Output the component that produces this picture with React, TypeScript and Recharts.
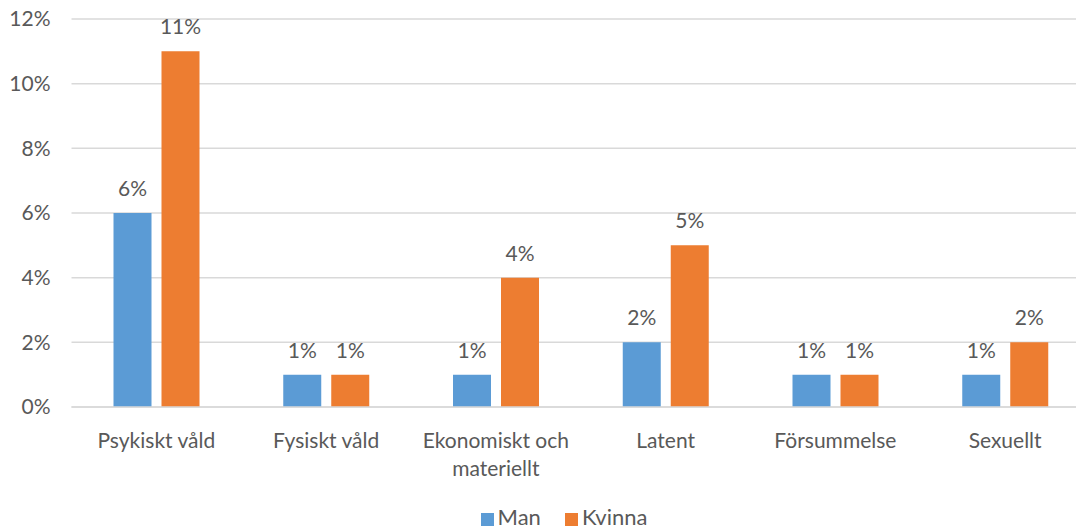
import { BarChart, Bar, XAxis, YAxis, CartesianGrid, Legend, LabelList } from "recharts";

const categories = [
  "Psykiskt våld",
  "Fysiskt våld",
  "Ekonomiskt och materiellt",
  "Latent",
  "Försummelse",
  "Sexuellt",
];
const man = [6, 1, 1, 2, 1, 1];
const kvinna = [11, 1, 4, 5, 1, 2];
const yTicks = [0, 2, 4, 6, 8, 10, 12];
const seriesOrder = ["Man", "Kvinna"];

const data = categories.map((name, i) => ({ name, Man: man[i], Kvinna: kvinna[i] }));

const FONT = "Lato, 'Open Sans', sans-serif";
const TEXT = "#595959";
const GRID = "#D9D9D9";

function wrap(label: string, max: number) {
  const lines: string[] = [];
  let cur = "";
  for (const w of label.split(" ")) {
    const next = cur ? cur + " " + w : w;
    if (next.length > max && cur) {
      lines.push(cur);
      cur = w;
    } else cur = next;
  }
  if (cur) lines.push(cur);
  return lines;
}

function CategoryTick(props: any) {
  const { x, y, payload } = props;
  const lines = wrap(payload.value, 15);
  return (
    <text x={x} y={y + 41} textAnchor="middle" fill={TEXT} fontSize={21} fontFamily={FONT}>
      {lines.map((l, i) => (
        <tspan key={i} x={x} dy={i === 0 ? 0 : 28}>
          {l}
        </tspan>
      ))}
    </text>
  );
}

export default function App() {
  return (
    <div
      style={{
        position: "fixed",
        left: 0,
        top: 0,
        width: 1076,
        height: 531,
        overflow: "hidden",
        background: "#fff",
      }}
    >
      <BarChart
        width={1120}
        height={531}
        data={data}
        margin={{ top: 19, right: 30, bottom: 0, left: 0 }}
        barSize={38}
        barGap={10}
      >
        <CartesianGrid vertical={false} stroke={GRID} strokeWidth={1.5} />
        <XAxis
          dataKey="name"
          axisLine={{ stroke: GRID, strokeWidth: 1.5 }}
          tickLine={false}
          tickSize={0}
          tickMargin={0}
          height={94}
          interval={0}
          tick={<CategoryTick />}
        />
        <YAxis
          width={71.5}
          domain={[0, 12]}
          ticks={yTicks}
          axisLine={false}
          tickLine={false}
          tickSize={0}
          tickMargin={21}
          tickFormatter={(v) => `${v}%`}
          tick={{ fontSize: 21, fill: TEXT, fontFamily: FONT }}
        />
        <Legend
          verticalAlign="bottom"
          height={30}
          iconType="square"
          iconSize={13}
          itemSorter={(item: any) => seriesOrder.indexOf(item.value)}
          wrapperStyle={{
            left: 426,
            width: 300,
            top: 505,
            bottom: "auto",
            fontFamily: FONT,
            fontSize: 22,
            color: TEXT,
            lineHeight: "24px",
          }}
          formatter={(v) => <span style={{ color: TEXT, marginRight: 14 }}>{v}</span>}
        />
        <Bar dataKey="Man" fill="#5B9BD5" isAnimationActive={false}>
          <LabelList
            dataKey="Man"
            position="top"
            offset={17}
            formatter={(v: any) => `${v}%`}
            style={{ fontSize: 21, fill: TEXT, fontFamily: FONT }}
          />
        </Bar>
        <Bar dataKey="Kvinna" fill="#ED7D31" isAnimationActive={false}>
          <LabelList
            dataKey="Kvinna"
            position="top"
            offset={17}
            formatter={(v: any) => `${v}%`}
            style={{ fontSize: 21, fill: TEXT, fontFamily: FONT }}
          />
        </Bar>
      </BarChart>
    </div>
  );
}
